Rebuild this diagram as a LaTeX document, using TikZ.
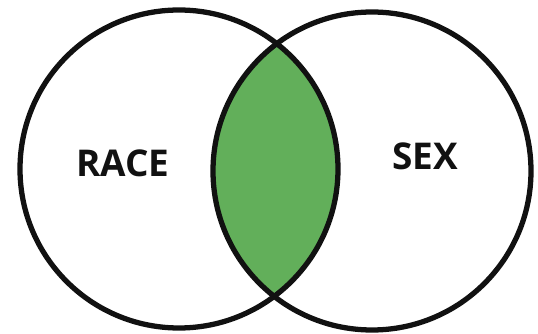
\documentclass[tikz,border=0pt]{standalone}
\usepackage{fontspec}
\setmainfont{Open Sans}
\usepackage{xcolor}
\usepackage{tikz}
\usetikzlibrary{calc}
\definecolor{lensgreen}{HTML}{62AF5A}
\definecolor{ringblack}{HTML}{111111}

\begin{document}
\begin{tikzpicture}[
    x=0.02cm, y=-0.02cm,
    ring/.style={draw=ringblack, line width=3pt},
    setlabel/.style={font=\fontsize{21}{25}\selectfont\bfseries, text=ringblack, inner sep=0pt}
]
\useasboundingbox (0,0) rectangle (538,334);
\coordinate (race) at (179,169);
\coordinate (sex) at (372,171);
% shared part
\begin{scope}
    \clip (race) circle [radius=159];
    \fill[lensgreen] (sex) circle [radius=159];
\end{scope}
\draw[ring] (race) circle [radius=159];
\draw[ring] (sex) circle [radius=159];
\node[setlabel] (raceLabel) at (123,163) {RACE};
\node[setlabel] (sexLabel) at (425,156) {SEX};
\end{tikzpicture}
\end{document}
